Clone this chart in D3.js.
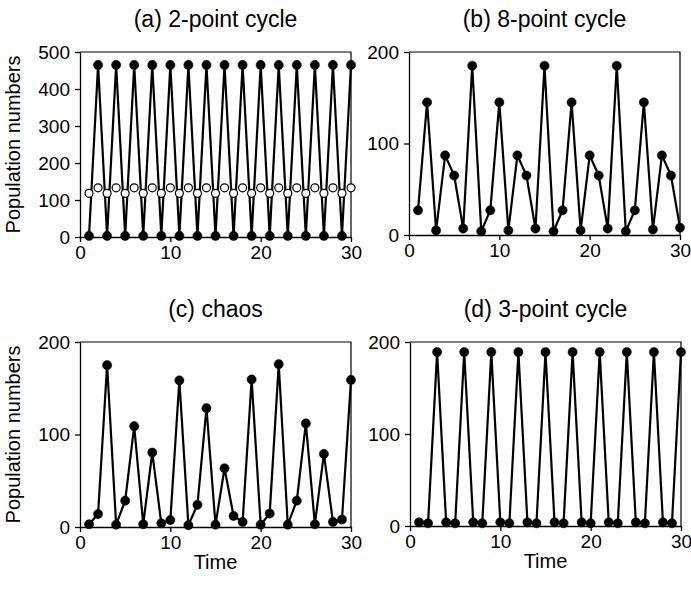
<!DOCTYPE html>
<html>
<head>
<meta charset="utf-8">
<script src="https://cdn.jsdelivr.net/npm/d3@7"></script>
<style>
    body { margin: 0; background: #fff; }
    text { font-family: Arial, "Liberation Sans", sans-serif; fill: #000; }
    .axis path, .axis line { stroke: #000; stroke-width: 1.3; }
    .axis text { font-size: 19px; }
    .title { font-size: 23px; }
    .label { font-size: 20px; }
</style>
</head>
<body>
<script>
// Population dynamics: four panels, time on x, population numbers on y

// =======================
// Data
// =======================
var time = d3.range(1, 31);

var cycle2High = [3, 465, 3, 465, 3, 465, 3, 465, 3, 465, 3, 465, 3, 465, 3,
                  465, 3, 465, 3, 465, 3, 465, 3, 465, 3, 465, 3, 465, 3, 465];
var cycle2Low = [118, 133, 118, 133, 118, 133, 118, 133, 118, 133, 118, 133, 118, 133, 118,
                 133, 118, 133, 118, 133, 118, 133, 118, 133, 118, 133, 118, 133, 118, 133];
var cycle8 = [27, 145, 5, 87, 65, 7, 185, 4, 27, 145, 5, 87, 65, 7, 185,
              4, 27, 145, 5, 87, 65, 7, 185, 4, 27, 145, 6, 87, 65, 8];
var chaos = [3, 14, 175, 2.5, 28.5, 109, 3, 80.5, 4, 7.5, 158.5, 2, 24, 128.5, 2.5,
             63.5, 12, 5.5, 159.5, 2.5, 14.5, 176, 2.5, 28.5, 112, 3, 79, 5.5, 8, 159];
var cycle3 = [4, 3, 189, 4, 3, 189, 4, 3, 189, 4, 3, 189, 4, 3, 189,
              4, 3, 189, 4, 3, 189, 4, 3, 189, 4, 3, 189, 4, 3, 189];

var xTicks = [0, 10, 20, 30];
var yTicksA = [0, 100, 200, 300, 400, 500];
var yTicksB = [0, 100, 200];

window.onload = function(){

    var w = 691,
        h = 593;

    var svg = d3.select("body")
        .append("svg")
        .attr("width", w)
        .attr("height", h);

    // =======================
    // One panel
    // =======================
    function drawPanel(p){
        var x = d3.scaleLinear().domain([0, 30]).range([p.left, p.left + 271]);
        var y = d3.scaleLinear().domain([0, p.yMax]).range([p.bottom, p.top]);

        var g = svg.append("g");

        // frame top and right
        g.append("path")
            .attr("d", "M" + x(0) + "," + y(p.yMax) + "H" + x(30) + "V" + y(0))
            .attr("fill", "none")
            .attr("stroke", "#000")
            .attr("stroke-width", 1.2);

        g.append("g")
            .attr("class", "axis")
            .attr("transform", "translate(0," + y(0) + ")")
            .call(d3.axisBottom(x).tickValues(xTicks).tickSize(5).tickSizeOuter(0).tickPadding(4));

        g.append("g")
            .attr("class", "axis")
            .attr("transform", "translate(" + x(0) + ",0)")
            .call(d3.axisLeft(y).tickValues(p.yTicks).tickSize(5).tickSizeOuter(0).tickPadding(5));

        g.selectAll(".axis .domain").attr("stroke-width", 1.5);

        // title
        g.append("text")
            .attr("class", "title")
            .attr("text-anchor", "middle")
            .attr("x", (x(0) + x(30)) / 2)
            .attr("y", p.top - 25)
            .text(p.title);

        if (p.yLabel) {
            g.append("text")
                .attr("class", "label")
                .attr("text-anchor", "middle")
                .attr("transform", "translate(20," + ((y(0) + y(p.yMax)) / 2) + ") rotate(-90)")
                .text("Population numbers");
        }
        if (p.xLabel) {
            g.append("text")
                .attr("class", "label")
                .attr("text-anchor", "middle")
                .attr("x", (x(0) + x(30)) / 2)
                .attr("y", y(0) + 42)
                .text("Time");
        }

        var line = d3.line()
            .x(function(d){ return x(d.t); })
            .y(function(d){ return y(d.v); });

        p.series.forEach(function(s){
            var pts = time.map(function(t, i){ return {t: t, v: s.values[i]}; });
            if (s.line) {
                g.append("path")
                    .datum(pts)
                    .attr("d", line)
                    .attr("fill", "none")
                    .attr("stroke", "#000")
                    .attr("stroke-width", 2.2)
                    .attr("stroke-linejoin", "round");
            }
            g.selectAll(null)
                .data(pts)
                .enter()
                .append("circle")
                .attr("cx", function(d){ return x(d.t); })
                .attr("cy", function(d){ return y(d.v); })
                .attr("r", s.open ? 4 : 4.6)
                .attr("fill", s.open ? "#fff" : "#000")
                .attr("stroke", "#000")
                .attr("stroke-width", s.open ? 1.2 : 0.5);
        });
    }

    drawPanel({
        title: "(a) 2-point cycle", left: 80, top: 52, bottom: 237, yMax: 500,
        yTicks: yTicksA, yLabel: true, xLabel: false,
        series: [{values: cycle2High, line: true, open: false},
                 {values: cycle2Low, line: false, open: true}]
    });
    drawPanel({
        title: "(b) 8-point cycle", left: 409, top: 52, bottom: 235, yMax: 200,
        yTicks: yTicksB, yLabel: false, xLabel: false,
        series: [{values: cycle8, line: true, open: false}]
    });
    drawPanel({
        title: "(c) chaos", left: 80, top: 342, bottom: 527, yMax: 200,
        yTicks: yTicksB, yLabel: true, xLabel: true,
        series: [{values: chaos, line: true, open: false}]
    });
    drawPanel({
        title: "(d) 3-point cycle", left: 410, top: 342, bottom: 526, yMax: 200,
        yTicks: yTicksB, yLabel: false, xLabel: true,
        series: [{values: cycle3, line: true, open: false}]
    });
};
</script>
</body>
</html>
